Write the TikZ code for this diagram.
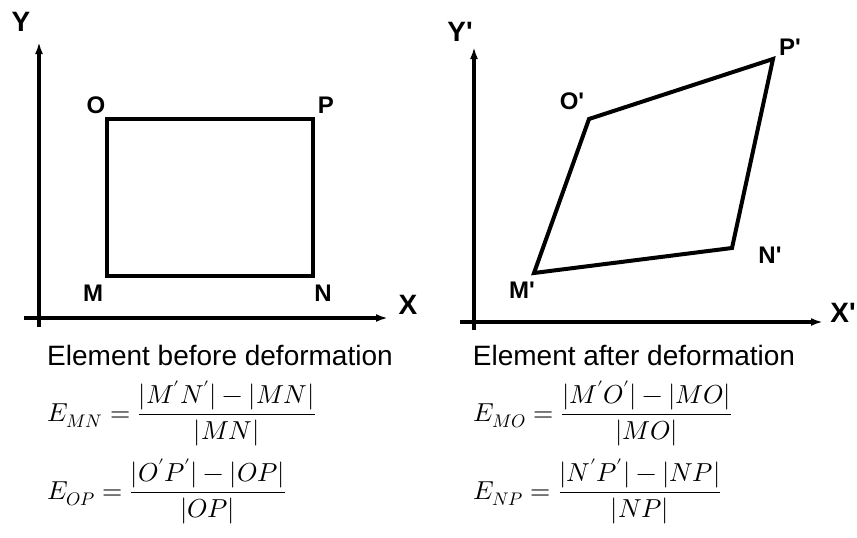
\documentclass[tikz,border=0pt]{standalone}
\usepackage{fontspec}
\usepackage{unicode-math}
\setmainfont{Liberation Sans}
\setmathfont{Latin Modern Math}
\usetikzlibrary{arrows.meta}
\begin{document}
\begin{tikzpicture}[x=1pt, y=-1pt, >={Latex[length=12pt,width=8pt]},
    axis/.style={line width=3.2pt, ->},
    elem/.style={line width=4pt, line join=miter},
    corner/.style={font=\fontsize{24}{26}\selectfont\bfseries},
    axlabel/.style={font=\fontsize{28}{30}\selectfont\bfseries},
    caption/.style={font=\fontsize{28}{30}\selectfont},
    formula/.style={font=\fontsize{26}{32}\selectfont, anchor=west, inner sep=0pt}]
    \useasboundingbox (0,0) rectangle (857,538);

    % 1. Axes before deformation
    \coordinate (xa) at (24,318);  \coordinate (xb) at (388,318);
    \coordinate (ya) at (39,327);  \coordinate (yb) at (39,42);
    \draw[axis] (xa) -- (xb);
    \draw[axis] (ya) -- (yb);
    \node[axlabel] (X) at (408,305) {X};
    \node[axlabel] (Y) at (21,22) {Y};

    % 2. Element before deformation
    \coordinate (M) at (107,276);  \coordinate (N) at (313,276);
    \coordinate (P) at (313,119);  \coordinate (O) at (107,119);
    \draw[elem] (M) -- (N) -- (P) -- (O) -- cycle;
    \node[corner] (lM) at (93,293) {M};
    \node[corner] (lN) at (323,293) {N};
    \node[corner] (lO) at (96,105) {O};
    \node[corner] (lP) at (326,105) {P};

    % 3. Axes after deformation
    \coordinate (xa') at (460,322);  \coordinate (xb') at (823,322);
    \coordinate (ya') at (474,330);  \coordinate (yb') at (474,47);
    \draw[axis] (xa') -- (xb');
    \draw[axis] (ya') -- (yb');
    \node[axlabel] (X') at (843,313) {X\textquotesingle};
    \node[axlabel] (Y') at (460,32) {Y\textquotesingle};

    % 4. Element after deformation
    \coordinate (M') at (534,273);  \coordinate (N') at (732,248);
    \coordinate (P') at (773,59);   \coordinate (O') at (589,119);
    \draw[elem] (M') -- (N') -- (P') -- (O') -- cycle;
    \node[corner] (lM') at (522,290) {M\textquotesingle};
    \node[corner] (lN') at (770,255) {N\textquotesingle};
    \node[corner] (lO') at (572,101) {O\textquotesingle};
    \node[corner] (lP') at (790,47) {P\textquotesingle};

    % 5. Captions and strains
    \node[caption] (cap1) at (220,355) {Element before deformation};
    \node[caption] (cap2) at (634,355) {Element after deformation};
    \node[formula] (fMN) at (47,413) {$E_{MN} = \dfrac{|M'N'| - |MN|}{|MN|}$};
    \node[formula] (fOP) at (47,491) {$E_{OP} = \dfrac{|O'P'| - |OP|}{|OP|}$};
    \node[formula] (fMO) at (473,413) {$E_{MO} = \dfrac{|M'O'| - |MO|}{|MO|}$};
    \node[formula] (fNP) at (473,491) {$E_{NP} = \dfrac{|N'P'| - |NP|}{|NP|}$};
\end{tikzpicture}
\end{document}
